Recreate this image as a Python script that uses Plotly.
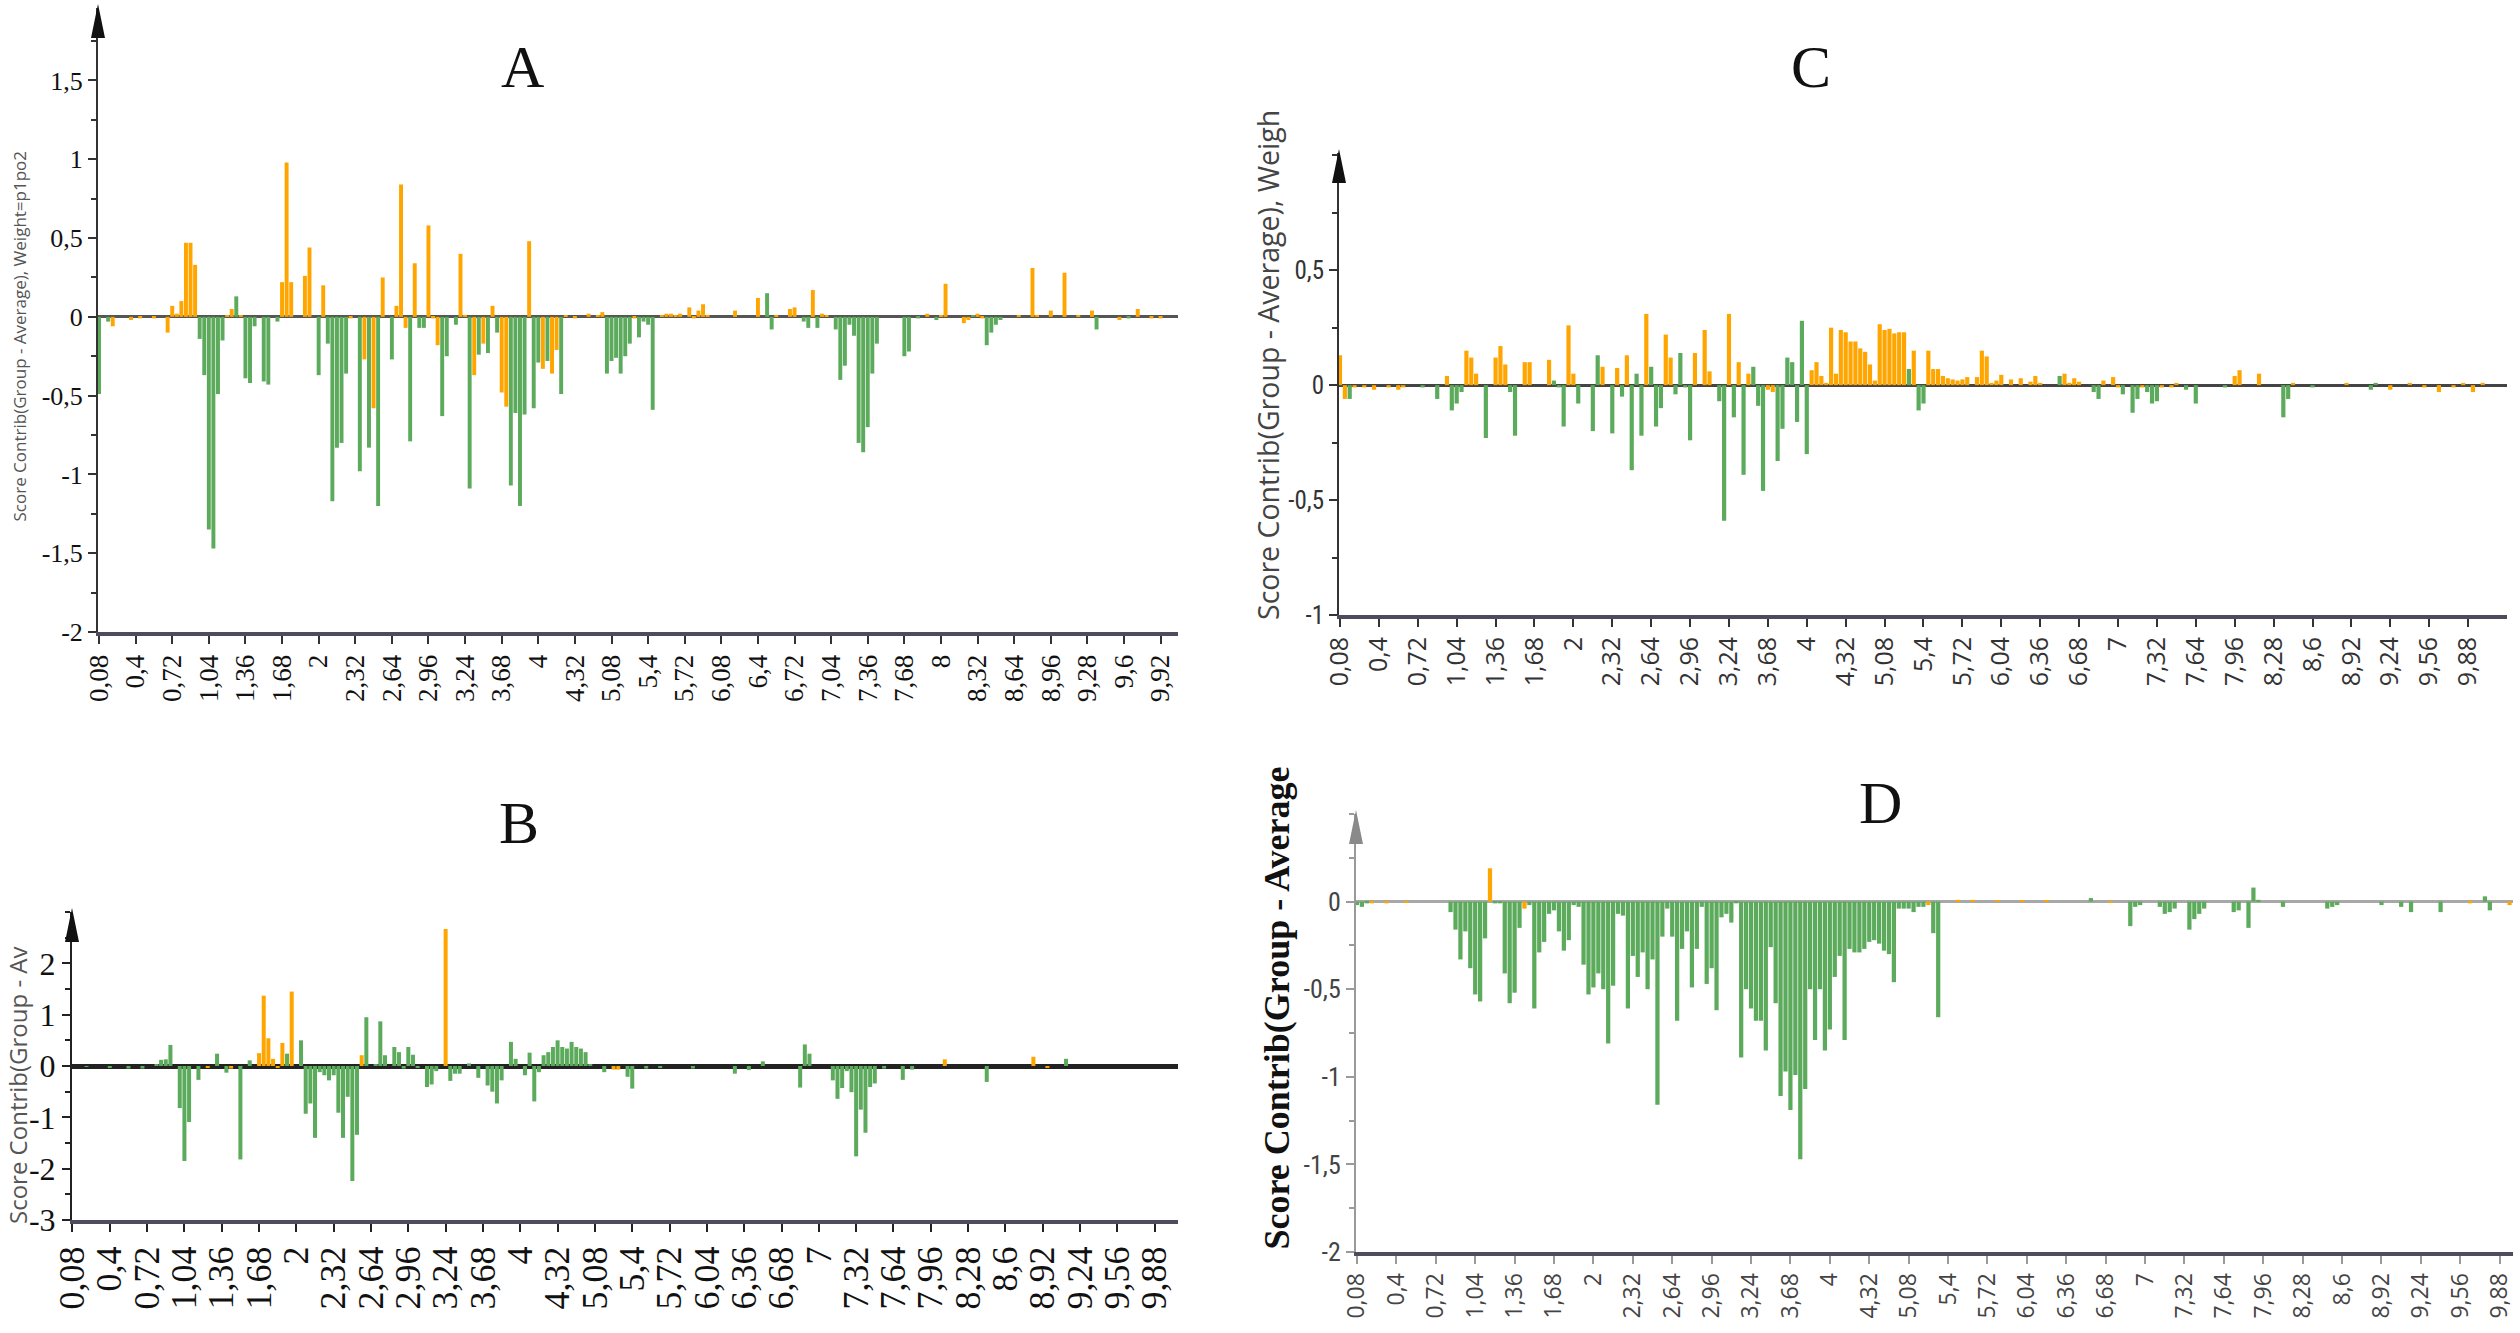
import plotly.graph_objects as go

W, H = 2520, 1333
ORANGE = "#ffa500"
GREEN = "#5caa5c"

# ---------------- data ----------------
A_ticks = ["0,08", "0,4", "0,72", "1,04", "1,36", "1,68", "2", "2,32", "2,64", "2,96",
           "3,24", "3,68", "4", "4,32", "5,08", "5,4", "5,72", "6,08", "6,4", "6,72",
           "7,04", "7,36", "7,68", "8", "8,32", "8,64", "8,96", "9,28", "9,6", "9,92"]
BCD_ticks = ["0,08", "0,4", "0,72", "1,04", "1,36", "1,68", "2", "2,32", "2,64", "2,96",
             "3,24", "3,68", "4", "4,32", "5,08", "5,4", "5,72", "6,04", "6,36", "6,68",
             "7", "7,32", "7,64", "7,96", "8,28", "8,6", "8,92", "9,24", "9,56", "9,88"]

# (bin index, score contribution, colour code: o = orange, g = green)
A_bars = [
    (0, -0.49, 'g'), (2, -0.03, 'g'), (3, -0.06, 'o'), (7, -0.02, 'o'), (9, -0.01, 'o'), (12, -0.01, 'o'),
    (15, -0.10, 'o'), (16, 0.07, 'o'), (17, 0.02, 'o'), (18, 0.10, 'o'), (19, 0.47, 'o'), (20, 0.47, 'o'),
    (21, 0.33, 'o'), (22, -0.14, 'g'), (23, -0.37, 'g'), (24, -1.35, 'g'), (25, -1.47, 'g'), (26, -0.49, 'g'),
    (27, -0.15, 'g'), (28, 0.01, 'o'), (29, 0.05, 'o'), (30, 0.13, 'g'), (31, 0.01, 'o'), (32, -0.39, 'g'),
    (33, -0.42, 'g'), (34, -0.06, 'g'), (36, -0.41, 'g'), (37, -0.43, 'g'), (39, -0.03, 'g'), (40, 0.22, 'o'),
    (41, 0.98, 'o'), (42, 0.22, 'o'), (45, 0.26, 'o'), (46, 0.44, 'o'), (48, -0.37, 'g'), (49, 0.20, 'o'),
    (50, -0.17, 'g'), (51, -1.17, 'g'), (52, -0.83, 'g'), (53, -0.80, 'g'), (54, -0.36, 'g'), (55, -0.01, 'o'),
    (57, -0.98, 'g'), (58, -0.27, 'o'), (59, -0.83, 'g'), (60, -0.58, 'o'), (61, -1.20, 'g'), (62, 0.25, 'o'),
    (64, -0.27, 'g'), (65, 0.07, 'o'), (66, 0.84, 'o'), (67, -0.07, 'o'), (68, -0.79, 'g'), (69, 0.34, 'o'),
    (70, -0.07, 'g'), (71, -0.07, 'g'), (72, 0.58, 'o'), (73, -0.01, 'o'), (74, -0.18, 'o'), (75, -0.63, 'g'),
    (76, -0.25, 'g'), (78, -0.05, 'g'), (79, 0.40, 'o'), (80, 0.01, 'o'), (81, -1.09, 'g'), (82, -0.37, 'o'),
    (83, -0.24, 'g'), (84, -0.17, 'o'), (85, -0.23, 'g'), (86, 0.07, 'o'), (87, -0.10, 'g'), (88, -0.48, 'o'),
    (89, -0.57, 'o'), (90, -1.07, 'g'), (91, -0.61, 'g'), (92, -1.20, 'g'), (93, -0.62, 'g'), (94, 0.48, 'o'),
    (95, -0.58, 'g'), (96, -0.29, 'g'), (97, -0.33, 'o'), (98, -0.28, 'g'), (99, -0.36, 'o'), (100, -0.21, 'o'),
    (101, -0.49, 'g'), (102, 0.01, 'o'), (104, -0.01, 'o'), (107, 0.02, 'o'), (109, 0.01, 'o'), (110, 0.03, 'o'),
    (111, -0.36, 'g'), (112, -0.28, 'g'), (113, -0.26, 'g'), (114, -0.36, 'g'), (115, -0.25, 'g'), (116, -0.17, 'g'),
    (117, -0.01, 'o'), (118, -0.13, 'g'), (119, -0.03, 'g'), (120, -0.05, 'g'), (121, -0.59, 'g'), (123, 0.01, 'o'),
    (124, 0.02, 'o'), (125, 0.02, 'o'), (126, 0.01, 'o'), (127, 0.02, 'o'), (129, 0.06, 'o'), (130, -0.01, 'o'),
    (131, 0.04, 'o'), (132, 0.08, 'o'), (133, 0.01, 'o'), (139, 0.04, 'o'), (144, 0.12, 'o'), (146, 0.15, 'g'),
    (147, -0.08, 'g'), (148, 0.01, 'o'), (151, 0.05, 'o'), (152, 0.06, 'o'), (154, -0.03, 'g'), (155, -0.07, 'g'),
    (156, 0.17, 'o'), (157, -0.07, 'g'), (158, 0.02, 'o'), (159, 0.01, 'o'), (161, -0.08, 'g'), (162, -0.40, 'g'),
    (163, -0.31, 'g'), (164, -0.05, 'g'), (165, -0.12, 'g'), (166, -0.80, 'g'), (167, -0.86, 'g'), (168, -0.70, 'g'),
    (169, -0.36, 'g'), (170, -0.17, 'g'), (176, -0.25, 'g'), (177, -0.22, 'g'), (179, -0.01, 'g'), (181, 0.02, 'o'),
    (183, -0.02, 'g'), (184, 0.01, 'o'), (185, 0.21, 'o'), (189, -0.04, 'o'), (190, -0.02, 'o'), (191, 0.01, 'g'),
    (192, 0.02, 'o'), (193, -0.01, 'o'), (194, -0.18, 'g'), (195, -0.10, 'g'), (196, -0.05, 'g'), (197, -0.02, 'g'),
    (201, 0.01, 'o'), (204, 0.31, 'o'), (205, 0.01, 'o'), (208, 0.04, 'o'), (211, 0.28, 'o'), (214, 0.01, 'o'),
    (217, 0.04, 'o'), (218, -0.08, 'g'), (223, -0.02, 'o'), (225, -0.01, 'g'), (227, 0.05, 'o'), (230, -0.01, 'o'),
    (232, -0.01, 'o'),
]

B_bars = [
    (3, -0.01, 'g'), (8, -0.02, 'g'), (12, -0.05, 'g'), (15, -0.05, 'g'), (18, 0.02, 'g'), (19, 0.12, 'g'),
    (20, 0.13, 'g'), (21, 0.41, 'g'), (23, -0.82, 'g'), (24, -1.85, 'g'), (25, -1.09, 'g'), (27, -0.27, 'g'),
    (29, -0.03, 'o'), (31, 0.24, 'g'), (33, -0.13, 'g'), (34, -0.05, 'o'), (36, -1.82, 'g'), (38, 0.11, 'g'),
    (40, 0.25, 'o'), (41, 1.37, 'o'), (42, 0.54, 'o'), (43, 0.14, 'o'), (44, -0.02, 'o'), (45, 0.45, 'o'),
    (46, 0.24, 'g'), (47, 1.45, 'o'), (49, 0.50, 'g'), (50, -0.93, 'g'), (51, -0.73, 'g'), (52, -1.40, 'g'),
    (53, -0.12, 'g'), (54, -0.18, 'g'), (55, -0.28, 'g'), (56, -0.18, 'g'), (57, -0.91, 'g'), (58, -1.40, 'g'),
    (59, -0.60, 'g'), (60, -2.24, 'g'), (61, -1.34, 'g'), (62, 0.21, 'o'), (63, 0.95, 'g'), (65, 0.03, 'g'),
    (66, 0.87, 'g'), (67, 0.21, 'g'), (69, 0.37, 'g'), (70, 0.27, 'g'), (71, -0.05, 'g'), (72, 0.37, 'g'),
    (73, 0.22, 'g'), (74, -0.03, 'g'), (76, -0.41, 'g'), (77, -0.36, 'g'), (78, -0.10, 'g'), (80, 2.67, 'o'),
    (81, -0.29, 'g'), (82, -0.15, 'g'), (83, -0.15, 'g'), (85, 0.05, 'g'), (87, -0.23, 'g'), (89, -0.38, 'g'),
    (90, -0.50, 'g'), (91, -0.73, 'g'), (92, -0.28, 'g'), (94, 0.47, 'g'), (95, 0.14, 'g'), (97, -0.18, 'g'),
    (98, 0.26, 'g'), (99, -0.69, 'g'), (100, -0.12, 'g'), (101, 0.21, 'g'), (102, 0.27, 'g'), (103, 0.37, 'g'),
    (104, 0.50, 'g'), (105, 0.37, 'g'), (106, 0.34, 'g'), (107, 0.47, 'g'), (108, 0.37, 'g'), (109, 0.34, 'g'),
    (110, 0.27, 'g'), (111, 0.02, 'g'), (114, -0.12, 'g'), (116, -0.07, 'o'), (117, -0.07, 'o'), (119, -0.21, 'g'),
    (120, -0.44, 'g'), (123, -0.05, 'g'), (126, -0.02, 'g'), (133, -0.05, 'g'), (142, -0.15, 'g'), (145, -0.08, 'g'),
    (148, 0.09, 'g'), (156, -0.42, 'g'), (157, 0.42, 'g'), (158, 0.24, 'g'), (163, -0.28, 'g'), (164, -0.64, 'g'),
    (165, -0.43, 'g'), (166, -0.10, 'g'), (167, -0.51, 'g'), (168, -1.76, 'g'), (169, -0.85, 'g'), (170, -1.30, 'g'),
    (171, -0.41, 'g'), (172, -0.34, 'g'), (174, -0.05, 'g'), (178, -0.27, 'g'), (180, -0.07, 'g'), (187, 0.13, 'o'),
    (196, -0.31, 'g'), (206, 0.18, 'o'), (209, -0.02, 'o'), (213, 0.14, 'g'),
]

C_bars = [
    (0, 0.13, 'o'), (1, -0.06, 'o'), (2, -0.06, 'g'), (3, -0.01, 'o'), (5, -0.01, 'o'), (7, -0.02, 'o'),
    (10, -0.01, 'o'), (12, -0.02, 'o'), (13, -0.01, 'o'), (17, -0.01, 'g'), (20, -0.06, 'g'), (22, 0.04, 'o'),
    (23, -0.11, 'g'), (24, -0.08, 'g'), (25, -0.03, 'g'), (26, 0.15, 'o'), (27, 0.12, 'o'), (28, 0.05, 'o'),
    (30, -0.23, 'g'), (32, 0.12, 'o'), (33, 0.17, 'o'), (34, 0.09, 'o'), (35, -0.03, 'g'), (36, -0.22, 'g'),
    (38, 0.10, 'o'), (39, 0.10, 'o'), (43, 0.11, 'o'), (44, 0.02, 'g'), (45, -0.01, 'g'), (46, -0.18, 'g'),
    (47, 0.26, 'o'), (48, 0.05, 'o'), (49, -0.08, 'g'), (52, -0.20, 'g'), (53, 0.13, 'g'), (54, 0.08, 'o'),
    (56, -0.21, 'g'), (57, 0.075, 'o'), (58, -0.05, 'g'), (59, 0.13, 'o'), (60, -0.37, 'g'), (61, 0.05, 'g'),
    (62, -0.22, 'g'), (63, 0.31, 'o'), (64, 0.08, 'g'), (65, -0.18, 'g'), (66, -0.10, 'g'), (67, 0.22, 'o'),
    (68, 0.12, 'o'), (69, -0.04, 'g'), (70, 0.14, 'g'), (71, -0.01, 'g'), (72, -0.24, 'g'), (73, 0.14, 'o'),
    (75, 0.24, 'o'), (76, 0.06, 'o'), (78, -0.07, 'g'), (79, -0.59, 'g'), (80, 0.31, 'o'), (81, -0.14, 'g'),
    (82, 0.10, 'o'), (83, -0.39, 'g'), (84, 0.05, 'o'), (85, 0.08, 'g'), (86, -0.09, 'g'), (87, -0.46, 'g'),
    (88, -0.02, 'o'), (89, -0.03, 'o'), (90, -0.33, 'g'), (91, -0.19, 'g'), (92, 0.12, 'g'), (93, 0.10, 'g'),
    (94, -0.16, 'g'), (95, 0.28, 'g'), (96, -0.30, 'g'), (97, 0.065, 'o'), (98, 0.10, 'o'), (99, 0.04, 'o'),
    (100, 0.01, 'o'), (101, 0.25, 'o'), (102, 0.05, 'o'), (103, 0.24, 'o'), (104, 0.23, 'o'), (105, 0.19, 'o'),
    (106, 0.19, 'o'), (107, 0.16, 'o'), (108, 0.145, 'o'), (109, 0.09, 'o'), (110, 0.02, 'o'), (111, 0.265, 'o'),
    (112, 0.24, 'o'), (113, 0.245, 'o'), (114, 0.225, 'o'), (115, 0.23, 'o'), (116, 0.23, 'o'), (117, 0.07, 'g'),
    (118, 0.15, 'o'), (119, -0.11, 'g'), (120, -0.08, 'g'), (121, 0.15, 'o'), (122, 0.07, 'o'), (123, 0.07, 'o'),
    (124, 0.04, 'o'), (125, 0.03, 'o'), (126, 0.025, 'o'), (127, 0.02, 'o'), (128, 0.025, 'o'), (129, 0.035, 'o'),
    (131, 0.035, 'o'), (132, 0.15, 'o'), (133, 0.125, 'o'), (134, 0.01, 'o'), (135, 0.02, 'o'), (136, 0.045, 'o'),
    (138, 0.025, 'o'), (140, 0.03, 'o'), (142, 0.015, 'o'), (143, 0.04, 'o'), (144, 0.01, 'o'), (148, 0.04, 'g'),
    (149, 0.05, 'o'), (150, 0.01, 'o'), (151, 0.03, 'o'), (152, 0.015, 'o'), (155, -0.03, 'g'), (156, -0.06, 'g'),
    (157, 0.02, 'o'), (159, 0.035, 'o'), (160, -0.01, 'o'), (161, -0.04, 'g'), (163, -0.12, 'g'), (164, -0.06, 'g'),
    (165, -0.01, 'o'), (166, -0.03, 'g'), (167, -0.08, 'g'), (168, -0.07, 'g'), (169, -0.01, 'o'), (171, -0.01, 'o'),
    (172, 0.01, 'o'), (174, -0.02, 'g'), (176, -0.08, 'g'), (182, -0.01, 'g'), (184, 0.04, 'o'), (185, 0.065, 'o'),
    (189, 0.05, 'o'), (194, -0.14, 'g'), (195, -0.06, 'g'), (196, 0.01, 'o'), (200, -0.01, 'g'), (207, 0.01, 'o'),
    (212, -0.02, 'g'), (213, 0.01, 'g'), (216, -0.02, 'o'), (220, 0.01, 'o'), (223, -0.01, 'o'), (226, -0.03, 'o'),
    (229, -0.01, 'o'), (231, 0.01, 'o'), (233, -0.03, 'o'), (235, 0.01, 'o'),
]

D_bars = [
    (0, -0.02, 'g'), (1, -0.03, 'g'), (2, -0.01, 'g'), (3, -0.01, 'o'), (6, -0.01, 'o'), (10, -0.005, 'o'),
    (19, -0.06, 'g'), (20, -0.16, 'g'), (21, -0.33, 'g'), (22, -0.17, 'g'), (23, -0.38, 'g'), (24, -0.53, 'g'),
    (25, -0.57, 'g'), (26, -0.21, 'g'), (27, 0.19, 'o'), (28, -0.01, 'g'), (29, -0.01, 'g'), (30, -0.41, 'g'),
    (31, -0.58, 'g'), (32, -0.52, 'g'), (33, -0.15, 'g'), (34, -0.04, 'o'), (35, -0.02, 'g'), (36, -0.61, 'g'),
    (37, -0.29, 'g'), (38, -0.23, 'g'), (39, -0.07, 'g'), (40, -0.05, 'g'), (41, -0.17, 'g'), (42, -0.28, 'g'),
    (43, -0.22, 'g'), (44, -0.02, 'g'), (45, -0.03, 'g'), (46, -0.36, 'g'), (47, -0.53, 'g'), (48, -0.49, 'g'),
    (49, -0.41, 'g'), (50, -0.50, 'g'), (51, -0.81, 'g'), (52, -0.48, 'g'), (53, -0.07, 'g'), (54, -0.08, 'g'),
    (55, -0.61, 'g'), (56, -0.31, 'g'), (57, -0.43, 'g'), (58, -0.29, 'g'), (59, -0.50, 'g'), (60, -0.33, 'g'),
    (61, -1.16, 'g'), (62, -0.20, 'g'), (63, -0.04, 'g'), (64, -0.20, 'g'), (65, -0.68, 'g'), (66, -0.27, 'g'),
    (67, -0.17, 'g'), (68, -0.49, 'g'), (69, -0.27, 'g'), (70, -0.03, 'g'), (71, -0.47, 'g'), (72, -0.38, 'g'),
    (73, -0.62, 'g'), (74, -0.09, 'g'), (75, -0.07, 'g'), (76, -0.12, 'g'), (77, -0.01, 'g'), (78, -0.89, 'g'),
    (79, -0.50, 'g'), (80, -0.61, 'g'), (81, -0.68, 'g'), (82, -0.68, 'g'), (83, -0.85, 'g'), (84, -0.26, 'g'),
    (85, -0.58, 'g'), (86, -1.11, 'g'), (87, -0.97, 'g'), (88, -1.19, 'g'), (89, -0.99, 'g'), (90, -1.47, 'g'),
    (91, -1.07, 'g'), (92, -0.50, 'g'), (93, -0.79, 'g'), (94, -0.50, 'g'), (95, -0.85, 'g'), (96, -0.73, 'g'),
    (97, -0.43, 'g'), (98, -0.31, 'g'), (99, -0.79, 'g'), (100, -0.27, 'g'), (101, -0.29, 'g'), (102, -0.29, 'g'),
    (103, -0.27, 'g'), (104, -0.23, 'g'), (105, -0.22, 'g'), (106, -0.24, 'g'), (107, -0.28, 'g'), (108, -0.30, 'g'),
    (109, -0.46, 'g'), (110, -0.04, 'g'), (111, -0.04, 'g'), (112, -0.04, 'g'), (113, -0.06, 'g'), (114, -0.03, 'g'),
    (115, -0.03, 'g'), (116, -0.02, 'o'), (117, -0.18, 'g'), (118, -0.66, 'g'), (122, 0.01, 'o'), (125, 0.01, 'o'),
    (130, 0.005, 'o'), (135, 0.005, 'o'), (140, 0.005, 'o'), (149, 0.02, 'g'), (153, -0.005, 'o'), (157, -0.14, 'g'),
    (158, -0.03, 'g'), (159, -0.02, 'g'), (163, -0.03, 'g'), (164, -0.07, 'g'), (165, -0.06, 'g'), (166, -0.04, 'g'),
    (169, -0.16, 'g'), (170, -0.10, 'g'), (171, -0.07, 'g'), (172, -0.04, 'g'), (178, -0.06, 'g'), (179, -0.05, 'g'),
    (181, -0.15, 'g'), (182, 0.08, 'g'), (183, 0.01, 'g'), (188, -0.03, 'g'), (197, -0.04, 'g'), (198, -0.03, 'g'),
    (199, -0.02, 'g'), (208, -0.02, 'g'), (212, -0.03, 'g'), (214, -0.06, 'g'), (220, -0.06, 'g'), (226, -0.01, 'o'),
    (229, 0.03, 'g'), (230, -0.05, 'g'), (234, -0.02, 'o'),
]

A_yvals = [-2, -1.5, -1, -0.5, 0, 0.5, 1, 1.5]
A_ytext = ["-2", "-1,5", "-1", "-0,5", "0", "0,5", "1", "1,5"]
B_yvals = [-3, -2, -1, 0, 1, 2]
B_ytext = ["-3", "-2", "-1", "0", "1", "2"]
C_yvals = [-1, -0.5, 0, 0.5]
C_ytext = ["-1", "-0,5", "0", "0,5"]
D_yvals = [-2, -1.5, -1, -0.5, 0]
D_ytext = ["-2", "-1,5", "-1", "-0,5", "0"]

Y_TITLE_A = "Score Contrib(Group - Average), Weight=p1po2"
Y_TITLE_B = "Score Contrib(Group - Av"
Y_TITLE_C = "Score Contrib(Group - Average), Weigh"
Y_TITLE_D = "Score Contrib(Group - Average"

# ---------------- layout helpers ----------------
def fx(p):
    return p / W


def fy(p):
    return 1 - p / H


SERIF = "Liberation Serif, Times New Roman, serif"
SANS = "Open Sans, DejaVu Sans, sans-serif"
NARROW = "Liberation Sans Narrow, Roboto Condensed, Liberation Sans, sans-serif"

panels = [
    dict(name="A", bars=A_bars, ticks=A_ticks, xdom=(98, 1178), ydom=(8, 632),
         xr=(-0.22, 235.8), yr=(-2, 1.96), yv=A_yvals, yt=A_ytext, minor=0.25,
         yfont=dict(family=SERIF, size=26, color="#111"), xfont=dict(family=SERIF, size=27, color="#111"),
         axcol="#333", zcol="#555", zw=3, arrow="#111",
         title=Y_TITLE_A, tpx=19, tbot=524, tfont=dict(family=SANS, size=17, color="#555"),
         lab=(522, 67)),
    dict(name="B", bars=B_bars, ticks=BCD_ticks, xdom=(72, 1178), ydom=(912, 1220),
         xr=(-0.1, 237.0), yr=(-3, 3.0), yv=B_yvals, yt=B_ytext, minor=0.5,
         yfont=dict(family=SERIF, size=32, color="#111"), xfont=dict(family=SERIF, size=36, color="#111"),
         axcol="#222", zcol="#222", zw=5, arrow="#111",
         title=Y_TITLE_B, tpx=17, tbot=1226, tfont=dict(family=SANS, size=24, color="#555"),
         lab=(519, 823)),
    dict(name="C", bars=C_bars, ticks=BCD_ticks, xdom=(1339, 2507), ydom=(153, 615),
         xr=(-0.2, 240.0), yr=(-1, 1.01), yv=C_yvals, yt=C_ytext, minor=0.25,
         yfont=dict(family=NARROW, size=25, color="#333"), xfont=dict(family=SANS, size=25, color="#333"),
         axcol="#333", zcol="#444", zw=3, arrow="#111",
         title=Y_TITLE_C, tpx=1268, tbot=622, tfont=dict(family=SANS, size=28.5, color="#444"),
         lab=(1811, 67)),
    dict(name="D", bars=D_bars, ticks=BCD_ticks, xdom=(1356, 2513), ydom=(814, 1252),
         xr=(-0.2, 234.7), yr=(-2, 0.5), yv=D_yvals, yt=D_ytext, minor=0.25,
         yfont=dict(family=NARROW, size=26, color="#444"), xfont=dict(family=SANS, size=23, color="#444"),
         axcol="#9a9a9a", zcol="#a8a8a8", zw=3, arrow="#8a8a8a",
         title=Y_TITLE_D, tpx=1276, tbot=1252, tfont=dict(family=SERIF, size=36, color="#111", weight="bold"),
         lab=(1880, 803)),
]

fig = go.Figure()
layout = dict(width=W, height=H, margin=dict(l=0, r=0, t=0, b=0, autoexpand=False), autosize=False,
              paper_bgcolor="white", plot_bgcolor="white", showlegend=False, bargap=0.14)
shapes, annotations = [], []

for i, p in enumerate(panels):
    sfx = "" if i == 0 else str(i + 1)
    xs = [b[0] for b in p["bars"]]
    ys = [b[1] for b in p["bars"]]
    cs = [ORANGE if b[2] == 'o' else GREEN for b in p["bars"]]
    fig.add_trace(go.Bar(x=xs, y=ys, marker=dict(color=cs, line=dict(width=0)),
                         xaxis="x" + sfx, yaxis="y" + sfx, hoverinfo="x+y"))
    n_ticks = len(p["ticks"])
    layout["xaxis" + sfx] = dict(
        domain=[fx(p["xdom"][0]), fx(p["xdom"][1])], range=list(p["xr"]), anchor="y" + sfx,
        tickmode="array", tickvals=[8 * k for k in range(n_ticks)], ticktext=p["ticks"],
        tickangle=-90, tickfont=p["xfont"], ticks="outside", ticklen=8, tickwidth=2,
        tickcolor=p["axcol"], showline=True, linewidth=4, linecolor="#4c4c5e",
        showgrid=False, zeroline=False, fixedrange=True, automargin=False)
    layout["yaxis" + sfx] = dict(
        domain=[fy(p["ydom"][1]), fy(p["ydom"][0])], range=list(p["yr"]), anchor="x" + sfx,
        tickmode="array", tickvals=p["yv"], ticktext=p["yt"], tickfont=p["yfont"],
        ticks="outside", ticklen=8, tickwidth=1.5, tickcolor=p["axcol"],
        minor=dict(dtick=p["minor"], tick0=0, ticks="outside", ticklen=5, tickcolor=p["axcol"], showgrid=False),
        showline=True, linewidth=2, linecolor=p["axcol"], showgrid=False,
        zeroline=True, zerolinecolor=p["zcol"], zerolinewidth=p["zw"], layer="above traces",
        fixedrange=True, automargin=False)
    # arrowhead on top of the y axis
    ax_x = p["xdom"][0]
    top = p["ydom"][0]
    hw, hh = 7, 30
    shapes.append(dict(type="path", xref="paper", yref="paper",
                       path=f"M {fx(ax_x)} {fy(top - 4)} L {fx(ax_x - hw)} {fy(top + hh)} "
                            f"L {fx(ax_x + hw)} {fy(top + hh)} Z",
                       fillcolor=p["arrow"], line=dict(width=0)))
    # panel letter
    annotations.append(dict(text=p["name"], x=fx(p["lab"][0]), y=fy(p["lab"][1]), xref="paper", yref="paper",
                            showarrow=False, xanchor="center", yanchor="middle",
                            font=dict(family=SERIF, size=60, color="#111")))
    # y axis title (rotated)
    annotations.append(dict(text=p["title"], x=fx(p["tpx"]), y=fy(p["tbot"]), xref="paper", yref="paper",
                            showarrow=False, textangle=-90, xanchor="center", yanchor="bottom",
                            font=p["tfont"]))

layout["shapes"] = shapes
layout["annotations"] = annotations
fig.update_layout(**layout)
fig.write_html("out.html")
